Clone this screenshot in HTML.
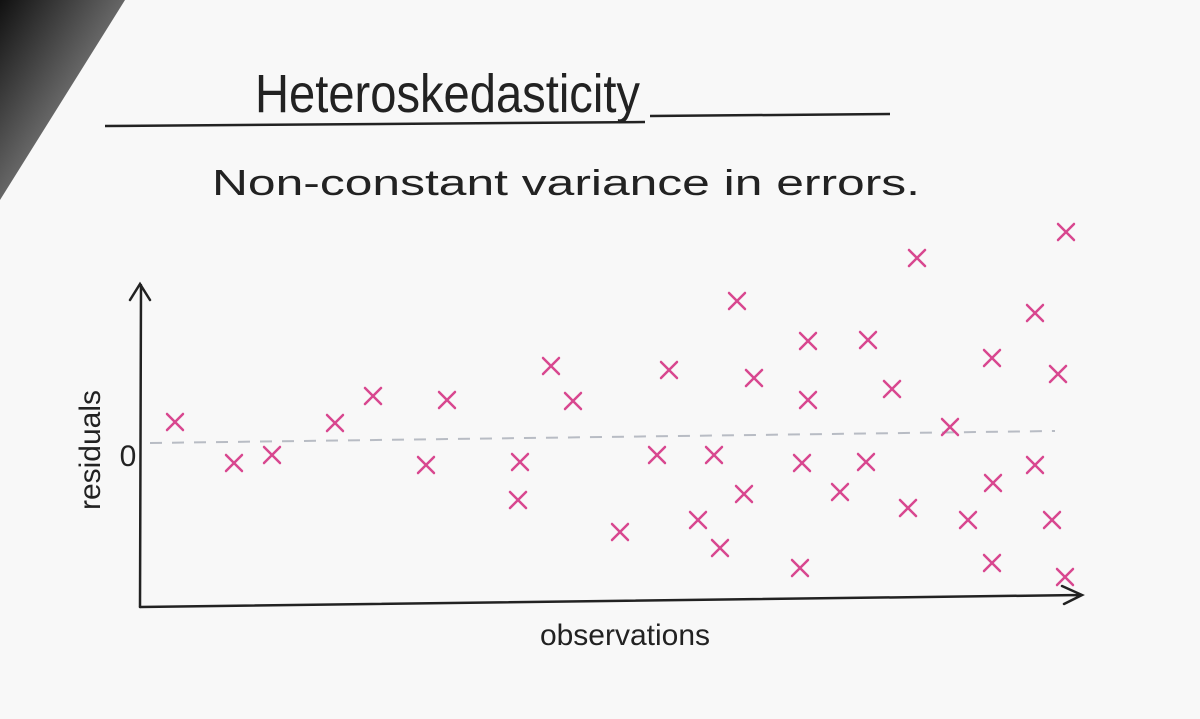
<!DOCTYPE html>
<html><head><meta charset="utf-8"><style>
html,body{margin:0;padding:0;background:#f8f8f8;}
svg{display:block;}
</style></head><body>
<svg width="1200" height="719" viewBox="0 0 1200 719">
<defs>
<linearGradient id="corner" x1="0" y1="0" x2="1" y2="1">
<stop offset="0" stop-color="#111"/><stop offset="0.6" stop-color="#777"/><stop offset="1" stop-color="#f8f8f8" stop-opacity="0"/>
</linearGradient>
</defs>
<rect width="1200" height="719" fill="#f8f8f8"/>
<polygon points="0,0 125,0 0,200" fill="url(#corner)"/>
<text x="255" y="112" font-family="Liberation Sans, sans-serif" font-size="54" fill="#222" textLength="385" lengthAdjust="spacingAndGlyphs">Heteroskedasticity</text>
<line x1="105" y1="126" x2="645" y2="122" stroke="#222" stroke-width="2.5"/>
<line x1="650" y1="116" x2="890" y2="114" stroke="#222" stroke-width="2.5"/>
<text x="212" y="195" font-family="Liberation Sans, sans-serif" font-size="36" fill="#222" textLength="708" lengthAdjust="spacingAndGlyphs">Non-constant variance in errors.</text>
<g id="axes" stroke="#222" stroke-width="2.5" fill="none" stroke-linecap="round">
<path d="M140 607 L141 285 M130 300 L140 284 L150 300"/>
<path d="M140 607 L1080 595 M1062 586 L1082 595 L1064 604"/>
</g>
<text x="128" y="466" font-family="Liberation Sans, sans-serif" font-size="30" fill="#222" text-anchor="middle">0</text>
<text transform="translate(100,450) rotate(-90)" font-family="Liberation Sans, sans-serif" font-size="30" fill="#222" text-anchor="middle">residuals</text>
<text x="625" y="645" font-family="Liberation Sans, sans-serif" font-size="30" fill="#222" text-anchor="middle">observations</text>
<line x1="150" y1="443" x2="1055" y2="431" stroke="#b8bcc4" stroke-width="2" stroke-dasharray="12,10"/>
<g id="points"></g>
</svg>
<script>
const observations=[35,94,132,195,233,307,286,380,378,411,433,480,517,529,558,574,580,597,604,614,668,668,662,660,728,726,700,752,777,768,810,852,853,828,852,895,895,918,912,926,925];
const residuals=[0.18,-0.23,-0.15,0.17,0.44,0.40,-0.25,-0.22,-0.60,0.74,0.39,-0.92,-0.15,0.70,-0.80,-0.15,-1.08,1.39,-0.54,0.62,0.99,0.40,-0.23,-1.28,1.00,-0.22,-0.52,0.51,1.82,-0.68,0.13,0.82,-0.43,-0.80,-1.23,1.27,-0.25,0.66,-0.80,2.08,-1.37];
const sx=o=>140+o;
const sy=r=>440-r*100;
const g=document.getElementById('points');
const ns='http://www.w3.org/2000/svg';
observations.forEach((o,i)=>{
  const x=sx(o),y=sy(residuals[i]),s=8;
  const p=document.createElementNS(ns,'path');
  p.setAttribute('d',`M${x-s} ${y-s} L${x+s} ${y+s} M${x+s} ${y-s} L${x-s} ${y+s}`);
  p.setAttribute('stroke','#d8478f');
  p.setAttribute('stroke-width','2.5');
  p.setAttribute('stroke-linecap','round');
  
  
  g.appendChild(p);
});
</script>
</body></html>
